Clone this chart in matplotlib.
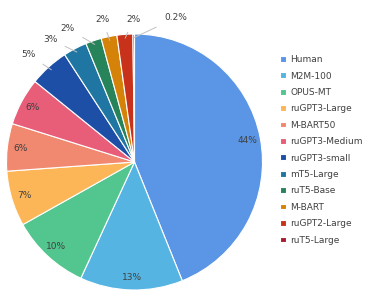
import numpy as np
import matplotlib.pyplot as plt

# Datos
models = ['Human', 'M2M-100', 'OPUS-MT', 'ruGPT3-Large', 'M-BART50', 'ruGPT3-Medium',
          'ruGPT3-small', 'mT5-Large', 'ruT5-Base', 'M-BART', 'ruGPT2-Large', 'ruT5-Large']
shares = [44, 13, 10, 7, 6, 6, 5, 3, 2, 2, 2, 0.2]
pct_labels = ['44%', '13%', '10%', '7%', '6%', '6%', '5%', '3%', '2%', '2%', '2%', '0.2%']

colors = ['#5b95e5', '#56b4e3', '#52c68e', '#fdb657', '#f0896f', '#e85d78',
          '#1e4fa6', '#1f76a3', '#27835a', '#d48208', '#c8321a', '#a81c30']

# posiciones de las etiquetas exteriores (coordenadas del pastel)
outside_pos = {6: (-0.83, 0.84), 7: (-0.66, 0.96), 8: (-0.52, 1.04),
               9: (-0.25, 1.11), 10: (-0.01, 1.11), 11: (0.32, 1.125)}

fig = plt.figure(figsize=(3.78, 2.94), dpi=100)
ax = fig.add_axes([6.5 / 378, 4 / 294, 256 / 378, 256 / 294])
wedges, _ = ax.pie(shares, colors=colors, startangle=90, counterclock=False,
                   wedgeprops=dict(edgecolor='white', linewidth=0.8))
ax.set_xlim(-1, 1)
ax.set_ylim(-1, 1)

for i, w in enumerate(wedges):
    ang = np.deg2rad((w.theta1 + w.theta2) / 2)
    if i in outside_pos:
        tx, ty = outside_pos[i]
        ax.annotate(pct_labels[i], xy=(np.cos(ang) * 0.97, np.sin(ang) * 0.97),
                    xytext=(tx, ty), ha='center', va='center', fontsize=6.5,
                    color='#404040',
                    arrowprops=dict(arrowstyle='-', color='#c0c0c0', lw=0.7,
                                    shrinkA=4, shrinkB=0))
    else:
        ax.text(np.cos(ang) * 0.9, np.sin(ang) * 0.9, pct_labels[i],
                ha='center', va='center', fontsize=6.5, color='#404040')

fig.legend(wedges, models, loc='upper left', bbox_to_anchor=(272 / 378, 1 - 47 / 294),
           frameon=False, fontsize=6.5, labelcolor='#404040',
           handlelength=0.6, handleheight=0.6, handletextpad=0.5, labelspacing=0.82)

plt.savefig('out.png', dpi=100)
